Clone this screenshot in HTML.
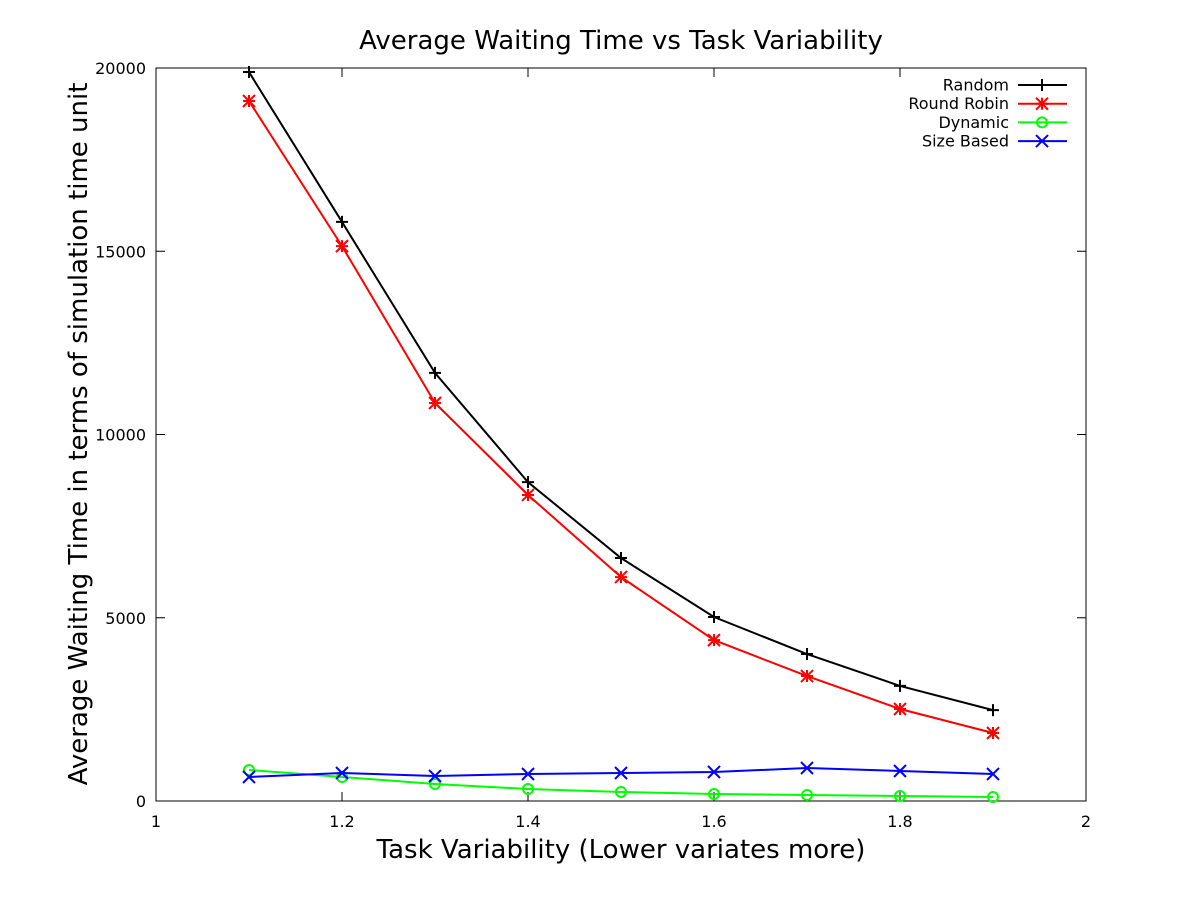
<!DOCTYPE html>
<html><head><meta charset="utf-8"><style>
body{margin:0;background:#fff;}
svg text{font-family:"DejaVu Sans","Liberation Sans",sans-serif;}
</style></head><body>
<svg id="chart" width="1200" height="900" xmlns="http://www.w3.org/2000/svg"></svg>
<script>
const xValues=[1.1,1.2,1.3,1.4,1.5,1.6,1.7,1.8,1.9];
const randomVals=[19890,15800,11680,8700,6630,5020,4010,3140,2480];
const rrVals=[19100,15140,10860,8350,6110,4390,3410,2510,1855];
const dynVals=[846,655,464,327,246,191,164,136,109];
const sizeVals=[655,764,682,737,764,791,900,819,737];
const xTicks=[1,1.2,1.4,1.6,1.8,2];
const xTickLabels=["1","1.2","1.4","1.6","1.8","2"];
const yTicks=[0,5000,10000,15000,20000];
const yTickLabels=["0","5000","10000","15000","20000"];
const seriesNames=["Random","Round Robin","Dynamic","Size Based"];

const L=156,R=1086,T=68,B=801;
const sx=v=>L+(v-1)/(2-1)*(R-L);
const sy=v=>B-v/20000*(B-T);
const svg=document.getElementById('chart');
const NS="http://www.w3.org/2000/svg";
function mk(tag,attrs,parent){const e=document.createElementNS(NS,tag);for(const k in attrs)e.setAttribute(k,attrs[k]);(parent||svg).appendChild(e);return e;}

const frame=mk('rect',{x:L,y:T,width:R-L,height:B-T,fill:'none',stroke:'#000','stroke-width':1});



xTicks.forEach((t,i)=>{
  const x=sx(t);
  const tk=mk('path',{d:`M${x},${B}v-9M${x},${T}v9`,stroke:'#000'});
  
  
  const tx=mk('text',{x:x,y:B+26,'text-anchor':'middle','font-size':16});
  tx.textContent=xTickLabels[i];
  
  
});
yTicks.forEach((t,i)=>{
  const y=sy(t);
  const tk=mk('path',{d:`M${L},${y}h9M${R},${y}h-9`,stroke:'#000'});
  
  
  const tx=mk('text',{x:L-10,y:y+6,'text-anchor':'end','font-size':16});
  tx.textContent=yTickLabels[i];
  
  
});

const title=mk('text',{x:621,y:49,'text-anchor':'middle','font-size':26});
title.textContent="Average Waiting Time vs Task Variability";


const xl=mk('text',{x:621,y:858,'text-anchor':'middle','font-size':26});
xl.textContent="Task Variability (Lower variates more)";


const yl=mk('text',{x:0,y:0,'text-anchor':'middle','font-size':26,transform:'translate(87,434) rotate(-90)'});
yl.textContent="Average Waiting Time in terms of simulation time unit";



function marker(g,type,x,y,color){
  const s=6;
  let d;
  if(type==='plus')d=`M${x-s},${y}h${2*s}M${x},${y-s}v${2*s}`;
  else if(type==='x')d=`M${x-s},${y-s}l${2*s},${2*s}M${x-s},${y+s}l${2*s},${-2*s}`;
  else if(type==='star')d=`M${x-s},${y}h${2*s}M${x},${y-s}v${2*s}M${x-s},${y-s}l${2*s},${2*s}M${x-s},${y+s}l${2*s},${-2*s}`;
  if(type==='circle'){const c=mk('circle',{cx:x,cy:y,r:5,fill:'none',stroke:color,'stroke-width':2},g);}
  else{const p=mk('path',{d:d,stroke:color,'stroke-width':2,fill:'none'},g);}
}
const series=[[randomVals,'#000','plus'],[rrVals,'#f00','star'],[dynVals,'#0f0','circle'],[sizeVals,'#00f','x']];
const seriesKeys=['random','round-robin','dynamic','size-based'];
series.forEach((s,i)=>{
  const g=mk('g',{});
  
  
  const pts=xValues.map((xv,j)=>sx(xv)+','+sy(s[0][j])).join(' ');
  const pl=mk('polyline',{points:pts,fill:'none',stroke:s[1],'stroke-width':2},g);
  
  
  xValues.forEach((xv,j)=>marker(g,s[2],sx(xv),sy(s[0][j]),s[1]));
  const ly=85+i*18.7;
  const lg=mk('g',{});
  
  
  const t=mk('text',{x:1009,y:ly+5.5,'text-anchor':'end','font-size':16},lg);
  t.textContent=seriesNames[i];
  mk('line',{x1:1018,x2:1067,y1:ly,y2:ly,stroke:s[1],'stroke-width':2},lg);
  marker(lg,s[2],1042,ly,s[1]);
});
</script>
</body></html>
